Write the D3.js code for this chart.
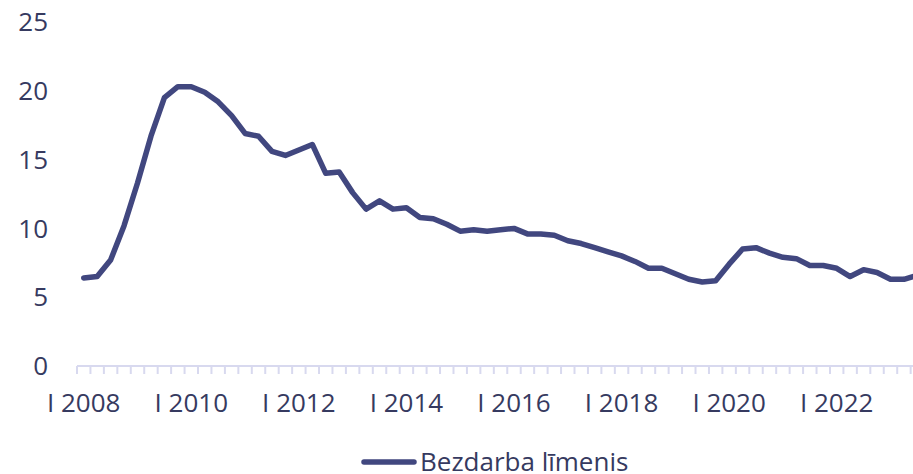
<!DOCTYPE html>
<html>
<head>
<meta charset="utf-8">
<script src="https://cdn.jsdelivr.net/npm/d3@7"></script>
<style>
  body { margin: 0; background: #fff; }
  text { font-family: "Open Sans", sans-serif; }
</style>
</head>
<body>
<svg width="913" height="474"></svg>
<script>
// quarters 2008 Q1 .. 2023 Q3
var years = d3.range(2008, 2024);
var romans = ["I", "II", "III", "IV"];
var quarters = [];
years.forEach(function(y){ romans.forEach(function(r){ quarters.push(r + " " + y) }) });
quarters = quarters.slice(0, 63);

// unemployment rate, %
var values = [6.4, 6.5, 7.7, 10.2, 13.3, 16.7, 19.5, 20.3, 20.3, 19.9, 19.2, 18.2,
              16.9, 16.7, 15.6, 15.3, 15.7, 16.1, 14.0, 14.1, 12.6, 11.4, 12.0, 11.4,
              11.5, 10.8, 10.7, 10.3, 9.8, 9.9, 9.8, 9.9, 10.0, 9.6, 9.6, 9.5,
              9.1, 8.9, 8.6, 8.3, 8.0, 7.6, 7.1, 7.1, 6.7, 6.3, 6.1, 6.2,
              7.4, 8.5, 8.6, 8.2, 7.9, 7.8, 7.3, 7.3, 7.1, 6.5, 7.0, 6.8,
              6.3, 6.3, 6.6];

var yTicks = [0, 5, 10, 15, 20, 25];
var seriesName = "Bezdarba līmenis";

var lineColor = "#41477f",
    textColor = "#363a60",
    axisColor = "#d8d9ef";

var svg = d3.select("svg"),
    width = +svg.attr("width"),
    height = +svg.attr("height");

var step = 13.446;
var x = d3.scaleBand()
    .domain(quarters)
    .range([77, 77 + step * quarters.length])
    .padding(0);

var y = d3.scaleLinear()
    .domain([0, 25])
    .range([366, 22]);

// y labels
svg.append("g")
  .selectAll("text")
  .data(yTicks)
  .enter()
  .append("text")
    .attr("x", 48)
    .attr("y", function(d){ return y(d) })
    .attr("dy", "0.35em")
    .attr("text-anchor", "end")
    .attr("font-size", 26)
    .attr("fill", textColor)
    .text(function(d){ return d });

// x axis line + quarter ticks
var ax = svg.append("g");
ax.append("line")
    .attr("x1", x.range()[0]).attr("x2", x.range()[1])
    .attr("y1", y(0)).attr("y2", y(0))
    .attr("stroke", axisColor).attr("stroke-width", 2);
ax.selectAll("line.tick")
  .data(quarters)
  .enter()
  .append("line")
    .attr("class", "tick")
    .attr("x1", function(d){ return x(d) })
    .attr("x2", function(d){ return x(d) })
    .attr("y1", y(0))
    .attr("y2", y(0) + 8)
    .attr("stroke", axisColor).attr("stroke-width", 2);

// x labels, every second year
ax.selectAll("text")
  .data(quarters.filter(function(d){ var p = d.split(" "); return p[0] == "I" && +p[1] % 2 == 0 }))
  .enter()
  .append("text")
    .attr("x", function(d){ return x(d) + x.bandwidth() / 2 })
    .attr("y", 412)
    .attr("text-anchor", "middle")
    .attr("font-size", 26)
    .attr("fill", textColor)
    .text(function(d){ return d });

// the line
var line = d3.line()
    .x(function(d, i){ return x(quarters[i]) + x.bandwidth() / 2 })
    .y(function(d){ return y(d) });

svg.append("path")
    .datum(values)
    .attr("fill", "none")
    .attr("stroke", lineColor)
    .attr("stroke-width", 5.5)
    .attr("stroke-linejoin", "round")
    .attr("stroke-linecap", "round")
    .attr("d", line);

// legend
var lg = svg.append("g");
lg.append("line")
    .attr("x1", 364).attr("x2", 414)
    .attr("y1", 462).attr("y2", 462)
    .attr("stroke", lineColor)
    .attr("stroke-width", 5.5)
    .attr("stroke-linecap", "round");
lg.append("text")
    .attr("x", 420)
    .attr("y", 471)
    .attr("font-size", 26)
    .attr("fill", textColor)
    .text(seriesName);
</script>
</body>
</html>
